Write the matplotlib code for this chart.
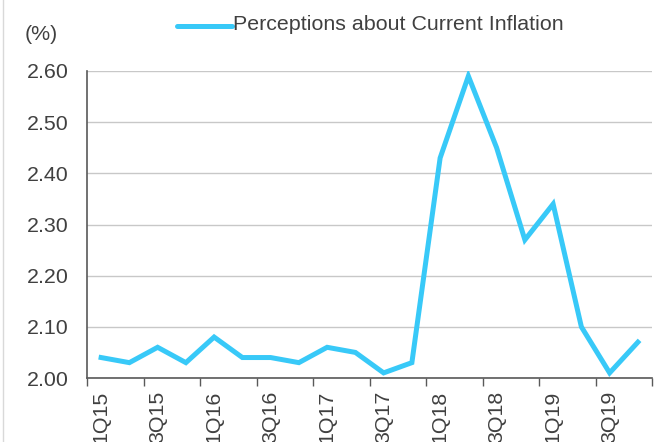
import matplotlib
matplotlib.use("Agg")
import matplotlib.pyplot as plt
from matplotlib.lines import Line2D
from matplotlib.ticker import FixedLocator, NullFormatter

plt.rcParams['font.family'] = ['Liberation Sans', 'DejaVu Sans']

quarters = ["1Q15", "2Q15", "3Q15", "4Q15", "1Q16", "2Q16", "3Q16", "4Q16",
            "1Q17", "2Q17", "3Q17", "4Q17", "1Q18", "2Q18", "3Q18", "4Q18",
            "1Q19", "2Q19", "3Q19", "4Q19"]
perceived_inflation = [2.04, 2.03, 2.06, 2.03, 2.08, 2.04, 2.04, 2.03,
                       2.06, 2.05, 2.01, 2.03, 2.43, 2.59, 2.45, 2.27,
                       2.34, 2.10, 2.01, 2.07]
y_ticks = [2.00, 2.10, 2.20, 2.30, 2.40, 2.50, 2.60]
series_name = "Perceptions about Current Inflation"

line_color = "#38C9F8"
text_color = "#404040"
fs = 15.4

fig = plt.figure(figsize=(6.63, 4.42), dpi=100)
ax = fig.add_axes([87 / 663, 1 - 378 / 442, (652 - 87) / 663, (378 - 71) / 442])

x = list(range(len(quarters)))
ax.plot(x, perceived_inflation, color=line_color, linewidth=3.6,
        solid_joinstyle='miter', label=series_name)

ax.set_xlim(-0.5, len(quarters) - 0.5)
ax.set_ylim(2.0, 2.6)
ax.set_yticks(y_ticks)
ax.set_yticklabels([f"{v:.2f}" for v in y_ticks])
ax.yaxis.grid(True, color="#C8C8C8", linewidth=1)
ax.set_axisbelow(True)

# tick marks at category boundaries, labels at every other category
ax.xaxis.set_major_locator(FixedLocator([i - 0.5 for i in range(0, len(quarters) + 1, 2)]))
ax.xaxis.set_major_formatter(NullFormatter())
ax.xaxis.set_minor_locator(FixedLocator(x[::2]))
ax.set_xticklabels(quarters[::2], minor=True, rotation=90, va='top', ha='center')
ax.tick_params(axis='x', which='major', length=6, width=1, color="#595959", direction='out')
ax.tick_params(axis='x', which='minor', length=0, pad=9, labelsize=fs, labelcolor=text_color)
ax.tick_params(axis='y', length=0, pad=13, labelsize=fs, labelcolor=text_color)

for side in ('top', 'right'):
    ax.spines[side].set_visible(False)
for side in ('left', 'bottom'):
    ax.spines[side].set_color("#595959")
    ax.spines[side].set_linewidth(1.2)

fig.text(41 / 663, 1 - 34 / 442, "(%)", ha='center', va='center', fontsize=fs, color=text_color)

# legend entry drawn above the plot
fig.add_artist(Line2D([177 / 663, 232 / 663], [1 - 26 / 442, 1 - 26 / 442],
                      color=line_color, linewidth=3.6, solid_capstyle='round'))
fig.text(233 / 663, 1 - 25 / 442, series_name, ha='left', va='center', fontsize=fs, color=text_color)

# thin frame line at the left edge
fig.add_artist(Line2D([3 / 663, 3 / 663], [0, 1], color="#D9D9D9", linewidth=1))

fig.savefig("out.png", dpi=100)
